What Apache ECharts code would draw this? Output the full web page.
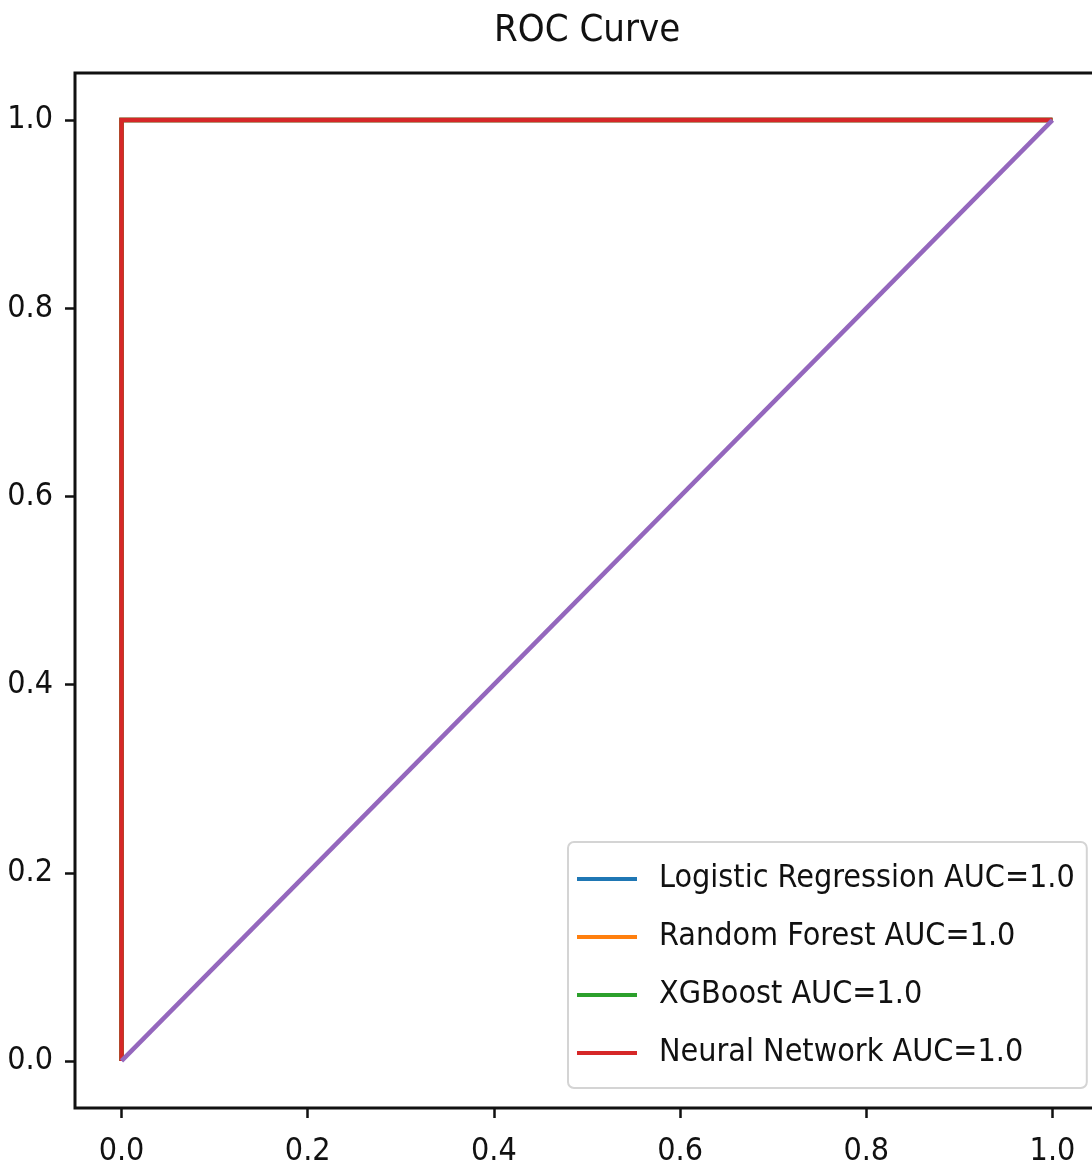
<!DOCTYPE html>
<html>
<head>
<meta charset="utf-8">
<script src="https://cdn.jsdelivr.net/npm/echarts@6/dist/echarts.min.js"></script>
<style>
html,body{margin:0;padding:0;background:#fff;}
#chart{width:1092px;height:1171px;}
</style>
</head>
<body>
<div id="chart"></div>
<script>
// ---- data ----
const modelNames = ['Logistic Regression', 'Random Forest', 'XGBoost', 'Neural Network'];
const modelAUC = [1.0, 1.0, 1.0, 1.0];
const fprLR = [0, 0, 1];
const tprLR = [0, 1, 1];
const fprRF = [0, 0, 1];
const tprRF = [0, 1, 1];
const fprXGB = [0, 0, 1];
const tprXGB = [0, 1, 1];
const fprNN = [0, 0, 1];
const tprNN = [0, 1, 1];
const diagX = [0, 1];
const diagY = [0, 1];
const tickValues = [0, 0.2, 0.4, 0.6, 0.8, 1.0];

const colors = ['#1f77b4', '#ff7f0e', '#2ca02c', '#d62728'];
const FONT = "'DejaVu Sans Condensed', 'DejaVu Sans', sans-serif";

function pairs(xs, ys) { return xs.map((x, i) => [x, ys[i]]); }
const curves = [[fprLR, tprLR], [fprRF, tprRF], [fprXGB, tprXGB], [fprNN, tprNN]];
const labels = modelNames.map((n, i) => n + ' AUC=' + modelAUC[i].toFixed(1));

const series = curves.map((c, i) => ({
  name: labels[i],
  type: 'line',
  data: pairs(c[0], c[1]),
  showSymbol: false,
  symbol: 'none',
  lineStyle: { color: colors[i], width: 4.5, join: 'miter' },
  itemStyle: { color: colors[i] },
  z: 2 + i
}));
series.push({
  name: 'diag',
  type: 'line',
  data: pairs(diagX, diagY),
  showSymbol: false,
  symbol: 'none',
  lineStyle: { color: '#9467bd', width: 4.5 },
  itemStyle: { color: '#9467bd' },
  z: 10
});

const chart = echarts.init(document.getElementById('chart'));
chart.setOption({
  animation: false,
  backgroundColor: '#fff',
  title: {
    text: 'ROC Curve',
    left: 494,
    top: 12,
    padding: 0,
    textStyle: { fontFamily: FONT, fontSize: 38, fontWeight: 'normal', color: '#111' }
  },
  grid: {
    left: 75, top: 73, width: 1024, height: 1035,
    outerBoundsMode: 'none',
    containLabel: false,
    show: true, borderColor: '#111', borderWidth: 3, backgroundColor: 'transparent'
  },
  legend: {
    data: labels,
    orient: 'vertical',
    left: 568,
    top: 842,
    padding: [15, 12, 13, 9],
    itemGap: 14,
    itemWidth: 60,
    itemHeight: 4,
    icon: 'rect',
    backgroundColor: 'rgba(255,255,255,0.8)',
    borderColor: '#d4d4d4',
    borderWidth: 2,
    borderRadius: 6,
    textStyle: { fontFamily: FONT, fontSize: 32, color: '#111', lineHeight: 44, padding: [0, 0, 0, 17] }
  },
  xAxis: {
    type: 'value',
    min: -0.05,
    max: 1.05,
    splitLine: { show: false },
    axisLine: { show: false, onZero: false },
    axisTick: { show: true, length: 10, customValues: tickValues, lineStyle: { color: '#111', width: 2.5 } },
    axisLabel: {
      customValues: tickValues,
      formatter: v => v.toFixed(1),
      margin: 28,
      fontFamily: FONT, fontSize: 32, color: '#111'
    }
  },
  yAxis: {
    type: 'value',
    min: -0.05,
    max: 1.05,
    splitLine: { show: false },
    axisLine: { show: false, onZero: false },
    axisTick: { show: true, length: 10, customValues: tickValues, lineStyle: { color: '#111', width: 2.5 } },
    axisLabel: {
      customValues: tickValues,
      formatter: v => v.toFixed(1),
      margin: 22,
      fontFamily: FONT, fontSize: 32, color: '#111'
    }
  },
  series: series
});
</script>
</body>
</html>
